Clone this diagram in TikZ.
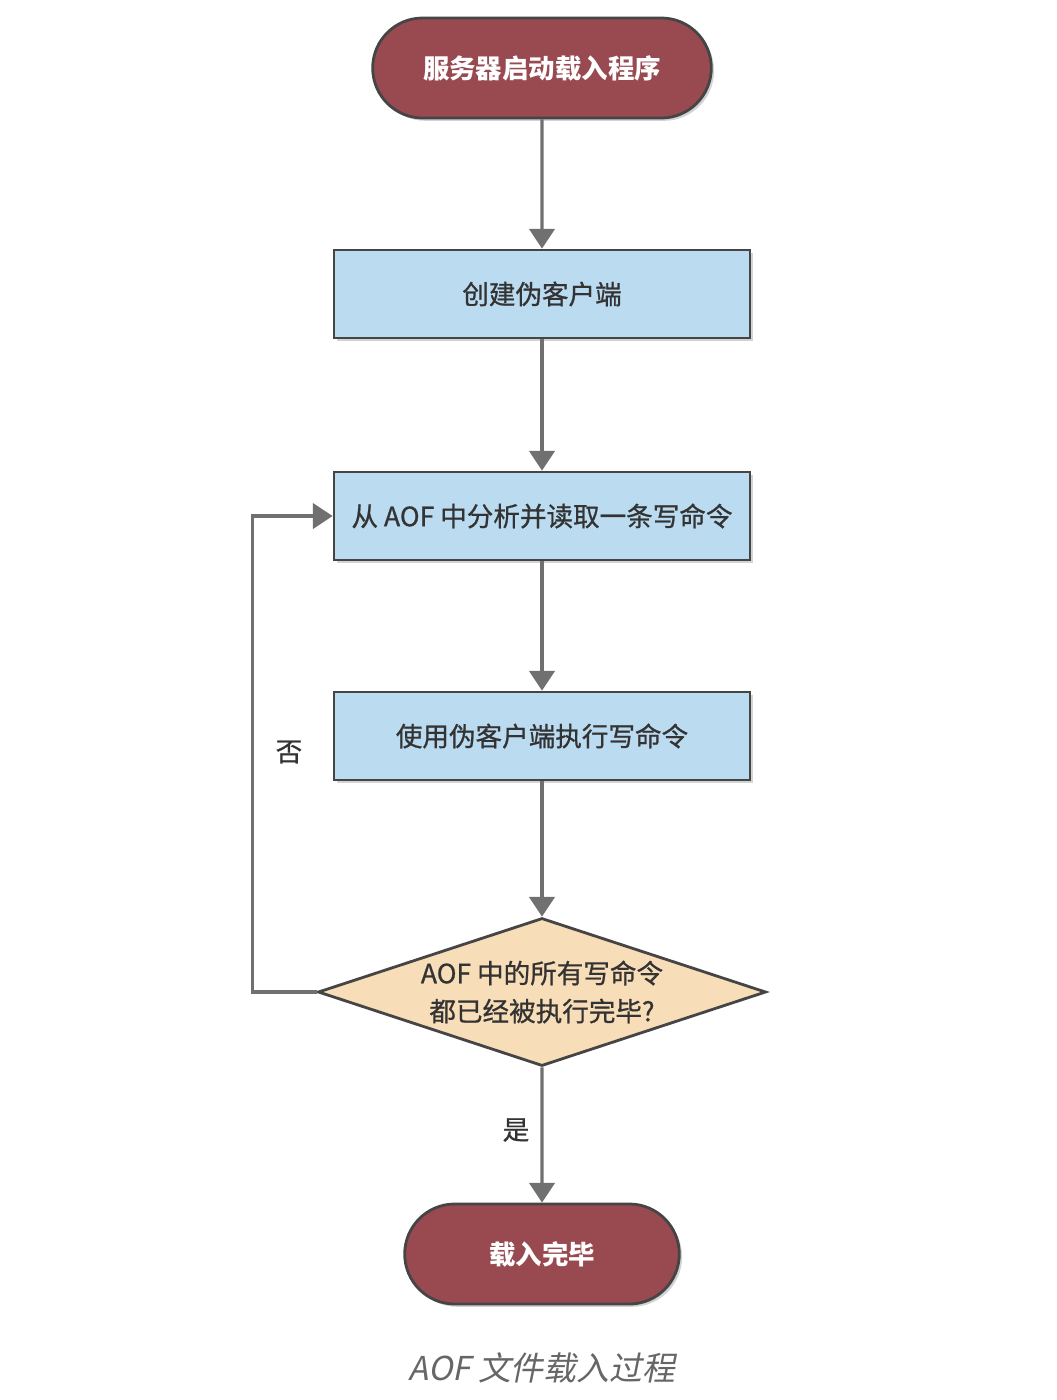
\documentclass[tikz,border=0pt]{standalone}
\usepackage{fontspec}
\setmainfont{Noto Sans CJK SC}
\newfontfamily\capfont{Noto Sans CJK SC}[FakeSlant=0.2]
\newfontfamily\boxfont{Noto Sans CJK SC}[FakeBold=0.8]
\usepackage{xcolor}
\usetikzlibrary{
    arrows.meta,
    shapes.geometric,
    shapes.misc,
    shadows,
    positioning
}
\definecolor{termred}{HTML}{994A51}
\definecolor{boxblue}{HTML}{BBDBF0}
\definecolor{decpeach}{HTML}{F8DDB9}
\definecolor{linegray}{HTML}{707070}
\definecolor{edgegray}{HTML}{454545}
\definecolor{textgray}{HTML}{333333}

\begin{document}
\begin{tikzpicture}[
        terminal/.style={rounded rectangle, draw=edgegray, line width=2pt, fill=termred,
            minimum width=8.7cm, minimum height=2.5cm, text=white,
            font=\fontsize{18.8}{22}\selectfont\bfseries,
            drop shadow={shadow xshift=2pt, shadow yshift=-2pt, opacity=0.35}},
        process/.style={rectangle, draw=edgegray, line width=2pt, fill=boxblue,
            minimum width=10.4cm, minimum height=2.2cm, text=textgray,
            font=\boxfont\fontsize{18.9}{22}\selectfont,
            drop shadow={shadow xshift=2pt, shadow yshift=-2pt, opacity=0.35}},
        decision/.style={diamond, draw=edgegray, line width=2pt, fill=decpeach,
            minimum width=11.2cm, minimum height=3.7cm, inner sep=0pt},
        flow/.style={draw=linegray, line width=2.2pt, -{Triangle[width=18pt,length=14pt]}},
        tag/.style={text=textgray, font=\boxfont\fontsize{18.9}{22}\selectfont}
    ]
    \useasboundingbox (0, 0) rectangle (26.4, -35);

    \node[terminal] (start) at (13.55, -1.7) {服务器启动载入程序};
    \node[process] (fake) at (13.55, -7.35) {创建伪客户端};
    \node[process] (read) at (13.55, -12.9) {从 AOF 中分析并读取一条写命令};
    \node[process] (exec) at (13.55, -18.4) {使用伪客户端执行写命令};
    \node[decision] (check) at (13.55, -24.8) {};
    \node[tag, align=center] (checktext) at (13.55, -24.8)
        {AOF 中的所有写命令\\[5pt]都已经被执行完毕?};
    \node[terminal, minimum width=7.1cm] (done) at (13.55, -31.35) {载入完毕};

    \draw[flow] (start) -- (fake);
    \draw[flow] (fake) -- (read);
    \draw[flow] (read) -- (exec);
    \draw[flow] (exec) -- (check);
    \draw[flow] (check) -- (done);
    \draw[flow] (check.west) -- ++(-1.6, 0) |- (read.west);

    \node[tag] (no) at (7.225, -18.8) {否};
    \node[tag] (yes) at (12.9, -28.25) {是};

    \node[text=black!60, font=\capfont\fontsize{23.4}{27}\selectfont] (caption) at (13.55, -34.2) {AOF 文件载入过程};
\end{tikzpicture}
\end{document}
